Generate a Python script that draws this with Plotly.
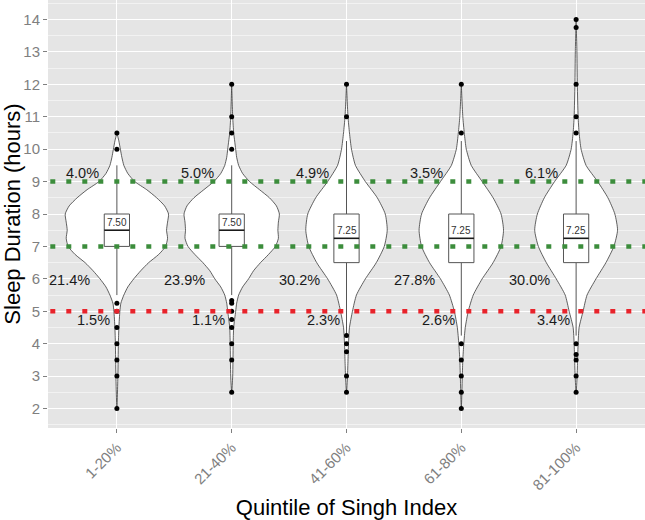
import plotly.graph_objects as go

# ---------------- data ----------------
categories = ["1-20%", "21-40%", "41-60%", "61-80%", "81-100%"]

# box statistics (hours)
q1 = [7.0, 7.0, 6.5, 6.5, 6.5]
median = [7.5, 7.5, 7.25, 7.25, 7.25]
q3 = [8.0, 8.0, 8.0, 8.0, 8.0]
lower_fence = [5.5, 5.5, 4.25, 4.25, 4.25]
upper_fence = [9.5, 9.5, 10.25, 10.25, 10.25]
median_labels = ["7.50", "7.50", "7.25", "7.25", "7.25"]

# outlying observations (hours)
outliers = [
    [10.5, 10.0, 5.25, 5.0, 4.5, 4.0, 3.5, 3.0, 2.0],
    [12.0, 11.0, 10.5, 10.0, 5.33, 5.25, 5.0, 4.75, 4.5, 4.0, 3.5, 2.5],
    [12.0, 11.0, 4.25, 4.0, 3.75, 3.0, 2.5],
    [12.0, 10.5, 4.0, 3.5, 3.0, 2.5, 2.0],
    [14.0, 13.75, 12.0, 11.0, 10.5, 4.0, 3.67, 3.5, 3.0, 2.5],
]

# violin density profiles (relative density, widest = 52)
violin_y = [
    [2.0, 3.0, 4.0, 4.5, 5.0, 5.25, 5.5, 5.75, 6.0, 6.25, 6.5, 6.75, 7.0, 7.25, 7.5,
     7.75, 8.0, 8.25, 8.5, 8.75, 9.0, 9.25, 9.5, 9.75, 10.0, 10.25, 10.5],
    [2.5, 3.0, 4.0, 4.5, 5.0, 5.25, 5.5, 5.75, 6.0, 6.25, 6.5, 6.75, 7.0, 7.25, 7.5,
     7.75, 8.0, 8.25, 8.5, 8.75, 9.0, 9.25, 9.5, 9.75, 10.0, 10.25, 10.5, 11.0, 12.0],
    [2.5, 3.0, 3.5, 4.0, 4.5, 5.0, 5.5, 6.0, 6.5, 7.0, 7.5, 8.0, 8.5, 9.0, 9.5, 10.0,
     10.5, 11.0, 12.0],
    [2.0, 3.0, 3.5, 4.0, 4.5, 5.0, 5.5, 6.0, 6.5, 7.0, 7.5, 8.0, 8.5, 9.0, 9.5, 10.0,
     10.5, 11.0, 12.0],
    [2.5, 3.0, 3.5, 4.0, 4.5, 5.0, 5.5, 6.0, 6.5, 7.0, 7.5, 8.0, 8.5, 9.0, 9.5, 10.0,
     10.5, 11.0, 12.0, 13.0, 14.0],
]
violin_density = [
    [0, 1, 1.5, 2, 3, 4, 7, 11, 17, 24, 32, 42, 49, 51, 50, 51, 52, 48, 40, 30, 18,
     11, 7, 5, 3.5, 2, 0],
    [0, 1, 1.5, 2, 4, 5, 7, 11, 17, 22, 29, 37, 44, 47, 46.5, 47, 48, 45, 38, 28, 18,
     11, 7, 5, 4, 3, 2, 1, 0],
    [0, 1, 1.5, 2, 3, 6, 10, 19, 30, 38, 41, 39, 31, 19, 9, 5, 3, 1.5, 0],
    [0, 1, 1.5, 2.5, 4, 7, 12, 21, 32, 40, 42.5, 40, 32, 21, 10, 5, 3, 1.5, 0],
    [0, 1, 1.5, 2, 3, 7, 11, 20, 30, 38, 41.7, 39, 32, 21.7, 10, 5, 3, 2, 1.2, 0.8, 0],
]

# share of respondents in each sleep band
pct_above_9 = ["4.0%", "5.0%", "4.9%", "3.5%", "6.1%"]
pct_5_to_7 = ["21.4%", "23.9%", "30.2%", "27.8%", "30.0%"]
pct_below_5 = ["1.5%", "1.1%", "2.3%", "2.6%", "3.4%"]

# reference thresholds (hours)
threshold_values = [5, 7, 9]
threshold_colors = ["#E8232B", "#3C8D3C", "#3C8D3C"]

y_ticks = list(range(2, 15))

# ---------------- figure ----------------
FONT = "Liberation Sans, Arial, sans-serif"
MAX_HALF_WIDTH = 0.45
DENS_MAX = 52.0
BOX_HALF = 0.11

fig = go.Figure()
xs = list(range(1, len(categories) + 1))

def add_line(x, y, color, width, dash=None):
    fig.add_trace(go.Scatter(x=x, y=y, mode="lines",
                             line=dict(color=color, width=width, dash=dash),
                             hoverinfo="skip", showlegend=False))

# violins
for i, x0 in enumerate(xs):
    ys = violin_y[i]
    hw = [d / DENS_MAX * MAX_HALF_WIDTH for d in violin_density[i]]
    px = [x0 + w for w in hw] + [x0 - w for w in reversed(hw)]
    py = ys + list(reversed(ys))
    fig.add_trace(go.Scatter(
        x=px, y=py, mode="lines", fill="toself", fillcolor="white",
        line=dict(color="#3a3a3a", width=0.8, shape="spline", smoothing=0.6),
        hoverinfo="skip", showlegend=False))

# boxes (whiskers, box, median)
for i, x0 in enumerate(xs):
    add_line([x0, x0], [q3[i], upper_fence[i]], "#555555", 1)
    add_line([x0, x0], [q1[i], lower_fence[i]], "#555555", 1)
    fig.add_trace(go.Scatter(
        x=[x0 - BOX_HALF, x0 + BOX_HALF, x0 + BOX_HALF, x0 - BOX_HALF, x0 - BOX_HALF],
        y=[q1[i], q1[i], q3[i], q3[i], q1[i]],
        mode="lines", fill="toself", fillcolor="white",
        line=dict(color="#555555", width=1), hoverinfo="skip", showlegend=False))
    add_line([x0 - BOX_HALF, x0 + BOX_HALF], [median[i], median[i]], "#1a1a1a", 1.6)

# outlier points
for i, x0 in enumerate(xs):
    fig.add_trace(go.Scatter(
        x=[x0] * len(outliers[i]), y=outliers[i], mode="markers",
        marker=dict(color="black", size=5, symbol="circle"),
        hoverinfo="skip", showlegend=False))

# threshold lines
for v, c in zip(threshold_values, threshold_colors):
    add_line([0.42, 5.6], [v, v], c, 4.5, "5px,11px")

annotations = []
for i, x0 in enumerate(xs):
    annotations.append(dict(x=x0, y=median[i] + 0.24, text=median_labels[i],
                            showarrow=False, font=dict(size=10, color="#333333", family=FONT)))
    annotations.append(dict(x=x0 - 0.3, y=9.26, text=pct_above_9[i], showarrow=False,
                            font=dict(size=14.5, color="#1a1a1a", family=FONT)))
    annotations.append(dict(x=x0 - 0.41, y=5.95, text=pct_5_to_7[i], showarrow=False,
                            font=dict(size=14.5, color="#1a1a1a", family=FONT)))
    annotations.append(dict(x=x0 - 0.2, y=4.72, text=pct_below_5[i], showarrow=False,
                            font=dict(size=14.5, color="#1a1a1a", family=FONT)))

fig.update_layout(
    width=645, height=520,
    margin=dict(l=48, r=0, t=0, b=92),
    paper_bgcolor="white", plot_bgcolor="#E5E5E5",
    font=dict(family=FONT),
    annotations=annotations,
    showlegend=False,
    xaxis=dict(
        range=[0.4, 5.6], tickvals=xs, ticktext=categories, tickangle=-45,
        tickfont=dict(size=15, color="#7F7F7F"),
        ticks="outside", ticklen=4, tickcolor="#7F7F7F",
        showgrid=True, gridcolor="white", gridwidth=1, zeroline=False,
        automargin=False,
        title=dict(text="Quintile of Singh Index", font=dict(size=22, color="black"),
                   standoff=18),
    ),
    yaxis=dict(
        range=[1.4, 14.6], tickvals=y_ticks,
        tickfont=dict(size=15, color="#7F7F7F"),
        ticks="outside", ticklen=4, tickcolor="#7F7F7F",
        showgrid=True, gridcolor="white", gridwidth=1, zeroline=False,
        automargin=False,
        minor=dict(dtick=0.5, tick0=0, showgrid=True, gridcolor="#F2F2F2", gridwidth=0.6),
        title=dict(text="Sleep Duration (hours)", font=dict(size=22, color="black"),
                   standoff=4),
    ),
)

fig.write_html("out.html", config={"displayModeBar": False},
               post_script="document.body.style.margin='0';")
